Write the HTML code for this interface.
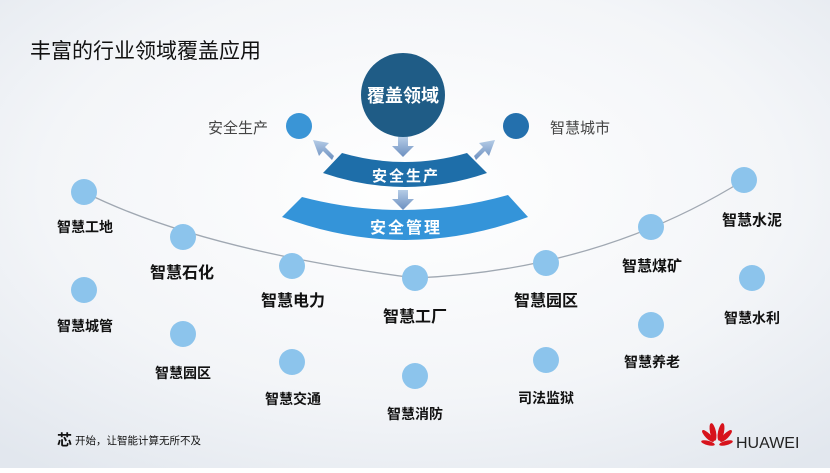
<!DOCTYPE html>
<html><head><meta charset="utf-8"><style>
body{margin:0;width:830px;height:468px;overflow:hidden;font-family:"Liberation Sans","Noto Sans CJK SC",sans-serif}
svg text{font-family:"Liberation Sans","Noto Sans CJK SC",sans-serif}
</style></head><body>
<svg width="830" height="468" viewBox="0 0 830 468" xmlns="http://www.w3.org/2000/svg">
<defs>
<radialGradient id="bg" cx="50%" cy="40%" r="75%">
<stop offset="0" stop-color="#ffffff"/><stop offset="0.6" stop-color="#f3f5f8"/><stop offset="1" stop-color="#e2e7ee"/>
</radialGradient>
<linearGradient id="ar" x1="0" y1="0" x2="0" y2="1"><stop offset="0" stop-color="#b5cce6"/><stop offset="1" stop-color="#6c8fc0"/></linearGradient>
</defs>
<rect width="830" height="468" fill="url(#bg)"/>
<text x="30" y="58" font-size="21" fill="#111">丰富的行业领域覆盖应用</text>

<path d="M84,192 Q200,250 415,278 Q600,270 744,180" fill="none" stroke="#a0a8b2" stroke-width="1.3"/>

<circle cx="403" cy="95" r="42" fill="#1f5c86"/>
<text x="403" y="102" font-size="18" font-weight="bold" fill="#fff" text-anchor="middle">覆盖领域</text>
<circle cx="299" cy="126" r="13" fill="#3a95d6"/>
<circle cx="516" cy="126" r="13" fill="#2470ad"/>
<text x="238" y="133" font-size="15" fill="#444" text-anchor="middle">安全生产</text>
<text x="580" y="133" font-size="15" fill="#444" text-anchor="middle">智慧城市</text>

<path d="M342,153 Q405,171 467,153 L487,173 Q405,201 323,173 Z" fill="#1e6ea9"/>
<text x="406" y="181" font-size="15" font-weight="bold" fill="#fff" text-anchor="middle" letter-spacing="2">安全生产</text>
<path d="M302,197 Q405,224 508,195 L528,217 Q405,263 282,217 Z" fill="#3494d9"/>
<text x="406" y="233" font-size="16" font-weight="bold" fill="#fff" text-anchor="middle" letter-spacing="2">安全管理</text>

<path d="M398,137 h10 v9 h6 l-11,11 -11,-11 h6z" fill="url(#ar)"/>
<path d="M398,190 h10 v9 h6 l-11,11 -11,-11 h6z" fill="url(#ar)"/>
<path d="M332,160 l-9,-9 -4,5 -6,-16 16,3 -4,4 9,9z" fill="url(#ar)"/>
<path d="M476,160 l9,-9 4,5 6,-16 -16,3 4,4 -9,9z" fill="url(#ar)"/>

<g fill="#8cc4ec">
<circle cx="84" cy="192" r="13"/><circle cx="183" cy="237" r="13"/><circle cx="292" cy="266" r="13"/><circle cx="415" cy="278" r="13"/><circle cx="546" cy="263" r="13"/><circle cx="651" cy="227" r="13"/><circle cx="744" cy="180" r="13"/>
<circle cx="84" cy="290" r="13"/><circle cx="183" cy="334" r="13"/><circle cx="292" cy="362" r="13"/><circle cx="415" cy="376" r="13"/><circle cx="546" cy="360" r="13"/><circle cx="651" cy="325" r="13"/><circle cx="752" cy="278" r="13"/>
</g>
<g fill="#111" text-anchor="middle" font-weight="bold">
<text x="85" y="232" font-size="14">智慧工地</text>
<text x="182" y="278" font-size="16">智慧石化</text>
<text x="293" y="306" font-size="16">智慧电力</text>
<text x="415" y="322" font-size="16">智慧工厂</text>
<text x="546" y="306" font-size="16">智慧园区</text>
<text x="652" y="271" font-size="15">智慧煤矿</text>
<text x="752" y="225" font-size="15">智慧水泥</text>
<text x="85" y="331" font-size="14">智慧城管</text>
<text x="183" y="378" font-size="14">智慧园区</text>
<text x="293" y="404" font-size="14">智慧交通</text>
<text x="415" y="419" font-size="14">智慧消防</text>
<text x="546" y="403" font-size="14">司法监狱</text>
<text x="652" y="367" font-size="14">智慧养老</text>
<text x="752" y="323" font-size="14">智慧水利</text>
</g>
<text x="57" y="445" font-size="15" font-weight="bold" fill="#111">芯</text>
<text x="75" y="444" font-size="10.5" fill="#111">开始，让智能计算无所不及</text>
<g transform="translate(715,442)" fill="#d7131c">
<ellipse cx="-2" cy="-10" rx="3" ry="9" transform="rotate(-12 -2 -10)"/>
<ellipse cx="6" cy="-10" rx="3" ry="9" transform="rotate(12 6 -10)"/>
<ellipse cx="-7" cy="-6" rx="2.6" ry="8" transform="rotate(-45 -7 -6)"/>
<ellipse cx="11" cy="-6" rx="2.6" ry="8" transform="rotate(45 11 -6)"/>
<ellipse cx="-7" cy="1" rx="2.2" ry="7" transform="rotate(-75 -7 1)"/>
<ellipse cx="11" cy="1" rx="2.2" ry="7" transform="rotate(75 11 1)"/>
</g>
<text x="736" y="448" font-size="16" fill="#222">HUAWEI</text>
</svg>
</body></html>
